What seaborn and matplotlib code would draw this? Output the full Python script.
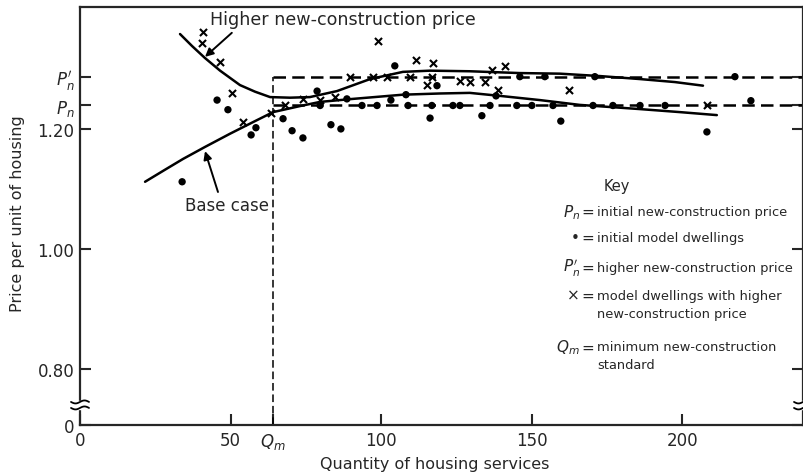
import numpy as np
import pandas as pd
import seaborn as sns
import matplotlib.pyplot as plt

# price levels / standard
PN = 1.239          # initial new-construction price
PN_HIGH = 1.287     # higher new-construction price
QM = 64             # minimum new-construction standard
Y_BOT = 0.707       # where the broken axis puts "0"
Y_TOP = 1.403
X_MAX = 240

# base case curve
base_q = [21.6, 28.2, 34.2, 41.5, 49.8, 58.1, 64.1, 73.0, 79.7, 90.6, 107.2,
          119.5, 129.4, 139.4, 152.7, 165.9, 185.9, 199.1, 211.4]
base_p = [1.112, 1.132, 1.150, 1.170, 1.192, 1.213, 1.228, 1.238, 1.245, 1.250, 1.257,
          1.259, 1.260, 1.255, 1.248, 1.240, 1.233, 1.228, 1.223]

# higher new-construction price curve
high_q = [33.2, 37.2, 41.5, 46.5, 53.1, 58.1, 63.1, 69.7, 76.3, 85.3, 96.3,
          107.2, 116.2, 129.4, 146.0, 159.3, 172.6, 185.9, 197.5, 206.8]
high_p = [1.358, 1.338, 1.318, 1.297, 1.273, 1.262, 1.253, 1.252, 1.253, 1.263, 1.283,
          1.295, 1.297, 1.296, 1.293, 1.292, 1.288, 1.283, 1.278, 1.272]

# initial model dwellings (dots)
dots_q = [33.9, 45.5, 49.1, 56.8, 58.4, 67.4, 70.4, 74.0, 78.7, 83.3, 86.6, 88.6,
          103.2, 104.5, 108.2, 116.2, 118.5, 133.4, 138.1, 159.6, 208.1, 222.7]
dots_p = [1.112, 1.248, 1.232, 1.190, 1.202, 1.217, 1.197, 1.185, 1.263, 1.207, 1.200, 1.250,
          1.248, 1.305, 1.257, 1.218, 1.272, 1.222, 1.255, 1.213, 1.195, 1.247]
# dots sitting on the price lines
dots_on_pn = [79.7, 93.6, 98.6, 108.9, 116.8, 123.8, 126.1, 136.1, 145.0, 150.0,
              157.0, 170.3, 176.9, 185.9, 194.2]
dots_on_pnh = [146.0, 154.3, 170.9, 217.4]

# model dwellings with higher new-construction price (crosses)
cross_q = [40.8, 40.5, 46.5, 50.4, 54.1, 63.4, 68.0, 74.0, 79.7, 84.6, 98.9, 111.5,
           117.2, 115.2, 126.1, 141.1, 136.7, 129.4, 134.4, 138.7, 162.3, 208.1]
cross_p = [1.362, 1.343, 1.312, 1.260, 1.212, 1.227, 1.239, 1.250, 1.248, 1.253, 1.347, 1.315,
           1.310, 1.273, 1.280, 1.305, 1.298, 1.278, 1.278, 1.265, 1.265, 1.239]
cross_on_pnh = [89.6, 97.2, 101.9, 109.5, 116.8]

sns.set_style("ticks")
plt.rcParams['font.family'] = ['DejaVu Sans']
plt.rcParams['mathtext.fontset'] = 'dejavusans'

fig = plt.figure(figsize=(8.04, 4.77), dpi=100)
ax = fig.add_axes([80 / 804, 51 / 477, 723 / 804, 418 / 477])

# reference lines
dash = (0, (5, 2.5))
ax.plot([QM, QM], [Y_BOT, PN_HIGH], color="black", lw=1.1, ls=dash)
ax.hlines([PN, PN_HIGH], QM, X_MAX, color="black", lw=1.8, linestyles=[dash])

# curves
sns.lineplot(x=base_q, y=base_p, color="black", lw=1.8, ax=ax)
sns.lineplot(x=high_q, y=high_p, color="black", lw=1.8, ax=ax)

# dwellings
dots = pd.DataFrame({"q": dots_q + dots_on_pn + dots_on_pnh,
                     "p": dots_p + [PN] * len(dots_on_pn) + [PN_HIGH] * len(dots_on_pnh)})
crosses = pd.DataFrame({"q": cross_q + cross_on_pnh,
                        "p": cross_p + [PN_HIGH] * len(cross_on_pnh)})
sns.scatterplot(data=dots, x="q", y="p", marker="o", color="black", s=28,
                edgecolor="none", legend=False, ax=ax)
sns.scatterplot(data=crosses, x="q", y="p", marker="x", color="black", s=26,
                linewidth=1.5, legend=False, ax=ax)

ax.set_xlim(0, X_MAX)
ax.set_ylim(Y_BOT, Y_TOP)
ax.set_xticks([0, 50, QM, 100, 150, 200])
ax.set_xticklabels(["0", "50", "$Q_m$", "100", "150", "200"])
ax.set_yticks([Y_BOT, 0.80, 1.00, 1.20, PN, PN_HIGH])
ax.set_yticklabels(["0", "0.80", "1.00", "1.20", "$P_n$", "$P_n'$"])
ax.tick_params(direction="in", length=8, width=1.5, labelsize=12, pad=4, right=True)
for s in ax.spines.values():
    s.set_linewidth(1.6)
ax.set_xlabel("")
ax.set_ylabel("")
ax.text(0.491, -0.093, "Quantity of housing services", transform=ax.transAxes,
        ha="center", va="center", fontsize=11.5)
ax.text(-0.086, 0.507, "Price per unit of housing", transform=ax.transAxes,
        ha="center", va="center", rotation=90, fontsize=11.5)

# axis breaks
t = np.linspace(-1, 1, 30)
for x0 in (0, 1):
    ax.add_patch(plt.Rectangle((x0 - 4 / 723, 0.038), 8 / 723, 0.02, transform=ax.transAxes,
                               color="white", clip_on=False, zorder=5))
    for dy in (-3, 3):
        ax.plot(x0 + t * 9 / 723, 0.048 + (dy + 1.5 * np.sin(np.pi * t)) / 418,
                transform=ax.transAxes, color="black", lw=1.3, clip_on=False, zorder=6)

# annotations
ax.text(43.1, 1.383, "Higher new-construction price", fontsize=12.6, ha="left", va="center")
ax.annotate("", xy=(41.5, 1.32), xytext=(50.4, 1.36),
            arrowprops=dict(arrowstyle="-|>", color="black", lw=1.4, shrinkA=0, shrinkB=0,
                            mutation_scale=12))
ax.text(34.8, 1.073, "Base case", fontsize=12, ha="left", va="center")
ax.annotate("", xy=(41.5, 1.163), xytext=(45.8, 1.095),
            arrowprops=dict(arrowstyle="-|>", color="black", lw=1.4, shrinkA=0, shrinkB=0,
                            mutation_scale=12))

# key
ax.text(178.2, 1.105, "Key", fontsize=10.5, ha="center", va="center")
key_rows = [(1.063, "$P_n$", "initial new-construction price"),
            (1.020, "\u2022", "initial model dwellings"),
            (0.970, "$P_n'$", "higher new-construction price"),
            (0.923, "\u00d7", "model dwellings with higher"),
            (0.893, "", "new-construction price"),
            (0.837, "$Q_m$", "minimum new-construction"),
            (0.807, "", "standard")]
for y, sym, txt in key_rows:
    if sym:
        ax.text(166, y, sym, fontsize=11, ha="right", va="center")
        ax.text(168.6, y, "=", fontsize=11, ha="center", va="center")
    ax.text(171.6, y, txt, fontsize=9.4, ha="left", va="center")

fig.savefig("out.png", dpi=100)
